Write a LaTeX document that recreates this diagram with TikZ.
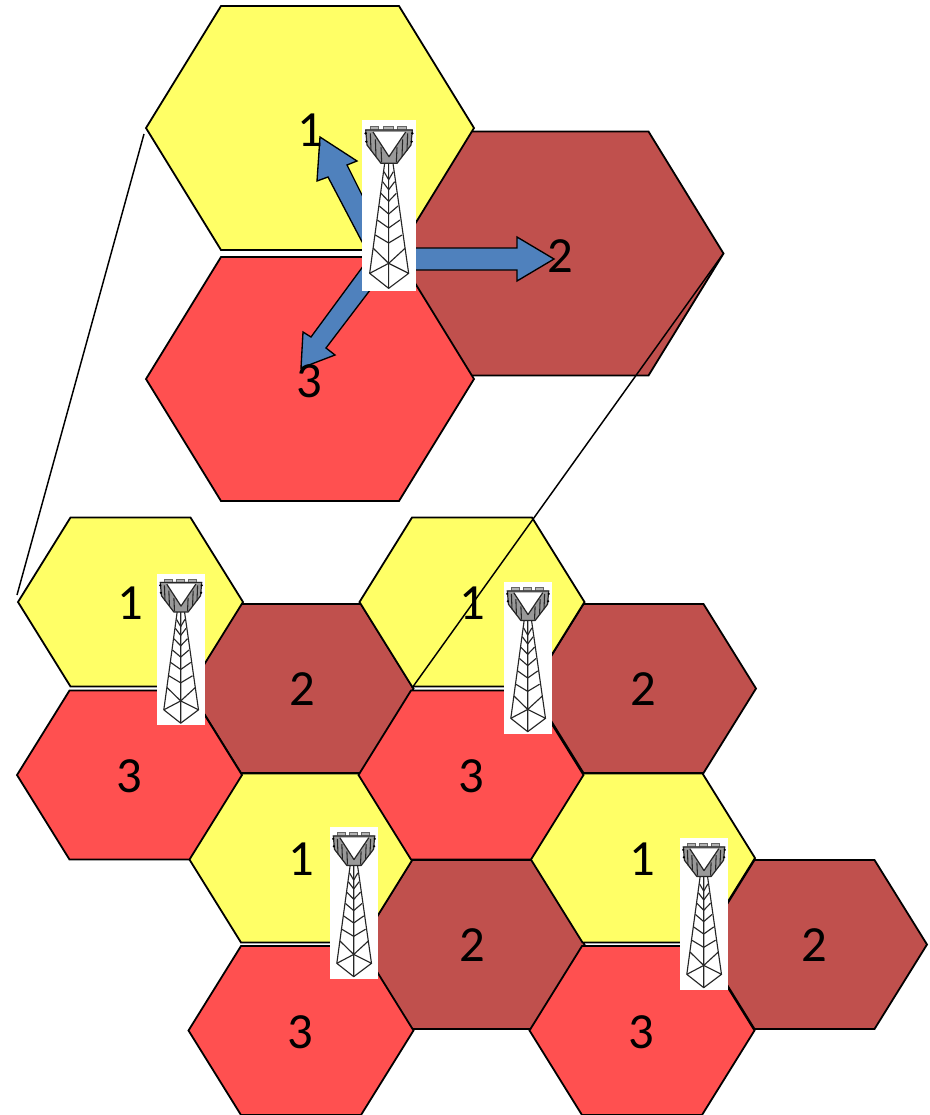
\documentclass[tikz,border=0pt]{standalone}
\usepackage{fontspec}
\setmainfont{Carlito}
\definecolor{hexY}{HTML}{FFFF66}
\definecolor{hexB}{HTML}{C0504D}
\definecolor{hexR}{HTML}{FF5050}
\definecolor{arrowB}{HTML}{4F81BD}
\tikzset{
  hexline/.style={draw=black,line width=1.35pt,line join=miter},
  digit/.style={font=\fontsize{38}{41}\selectfont,inner sep=0pt,text=black},
  blockarrow/.style={draw=black,line width=1pt,fill=arrowB,line join=miter},
  zoomline/.style={draw=black,line width=1.1pt},
  towerline/.style={black!85,line width=.85pt,line join=round},
  tower/.pic={
    \begin{scope}[x=.25pt,y=-.25pt,shift={(-245,-60)}]
      \fill[white] (245,60) rectangle (407,572);
      % roof blocks
      \foreach \a/\b in {270/295,310/338,352/378}
        \draw[fill=gray!60,draw=black!60,line width=.4pt] (\a,78) rectangle (\b,92);
      % basket
      \fill[gray!80] (256,88) -- (396,88) -- (392,135) -- (350,190) -- (302,190) -- (260,135) -- cycle;
      \fill[white] (278,96) -- (376,96) -- (326,170) -- cycle;
      \draw[black!85,line width=.9pt,line join=round] (256,90) -- (396,90) (256,88) -- (260,135) -- (302,190) -- (350,190) -- (392,135) -- (396,88) (278,96) -- (326,170) -- (376,96);
      \foreach \a/\b/\c/\d in {270/100/272/152,285/118/287/170,302/142/304/187,350/142/348/187,367/118/365/170,382/100/380/152}
        \draw[black!85,line width=.8pt] (\a,\b) -- (\c,\d);
      \foreach \a/\b in {256/100,396/100,258/125,394/125}
        \fill[black] (\a,\b) circle (4);
      % mast
      \draw[towerline] (313,190) -- (268,520) (338,190) -- (385,520) (325,190) -- (325,565);
      \draw[towerline] (268,520) -- (325,490) -- (385,520) -- (325,565) -- cycle;
      \foreach \y/\d in {215/14,245/18,280/23,318/28,360/34,405/40}
        \draw[towerline] (325-\d,\y) -- (325,\y+24) -- (325+\d,\y);
      \draw[towerline] (279,445) -- (325,490) -- (374,445);
    \end{scope}
  }
}
\newcommand{\hexsmall}[3]{%
  \draw[hexline,fill=#3] (#1-112.5,#2) -- (#1-60,#2-84.5) -- (#1+60,#2-84.5) -- (#1+112.5,#2) -- (#1+60,#2+84.5) -- (#1-60,#2+84.5) -- cycle;}
\newcommand{\hexlarge}[3]{%
  \draw[hexline,fill=#3] (#1-164,#2) -- (#1-89,#2-122) -- (#1+89,#2-122) -- (#1+164,#2) -- (#1+89,#2+122) -- (#1-89,#2+122) -- cycle;}
\begin{document}
\begin{tikzpicture}[x=.75pt,y=-.75pt]
\useasboundingbox (0,0) rectangle (930,1115);
% large cluster
\hexlarge{559.5}{253.5}{hexB}
\hexlarge{310}{128}{hexY}
\hexlarge{310}{379}{hexR}
% small clusters
\hexsmall{301}{688.5}{hexB}
\hexsmall{643.5}{688.5}{hexB}
\hexsmall{472}{944.5}{hexB}
\hexsmall{814.5}{944.5}{hexB}
\hexsmall{130.5}{602}{hexY}
\hexsmall{472}{602}{hexY}
\hexsmall{301}{858}{hexY}
\hexsmall{642.5}{858}{hexY}
\hexsmall{129.5}{775}{hexR}
\hexsmall{471}{775}{hexR}
\hexsmall{301}{1030.5}{hexR}
\hexsmall{642}{1030.5}{hexR}
% zoom lines
\coordinate (zl1) at (144,134);
\coordinate (zl2) at (17,595);
\coordinate (zr1) at (723,254);
\coordinate (zr2) at (412,688);
\draw[zoomline] (zl1) -- (zl2);
\draw[zoomline] (zr1) -- (zr2);
% block arrows
\draw[blockarrow] (380,231) -- (347,165) -- (357,161) -- (320,137) -- (317,181) -- (328,177) -- (380,276) -- cycle;
\draw[blockarrow] (400,248) -- (517,248) -- (517,237) -- (554,259) -- (517,281) -- (517,270) -- (400,270) -- cycle;
\draw[blockarrow] (375,250) -- (311,337) -- (303,332) -- (301,368) -- (335,355) -- (326,348) -- (380,277) -- cycle;
% digits
\node[digit] (a1) at (310,130) {1};
\node[digit] (a2) at (560.5,256) {2};
\node[digit] (a3) at (309.5,381) {3};
\node[digit] (b1) at (130,603) {1};
\node[digit] (b2) at (302,689) {2};
\node[digit] (b3) at (129.5,776) {3};
\node[digit] (c1) at (472,603) {1};
\node[digit] (c2) at (643.5,689) {2};
\node[digit] (c3) at (471.5,776) {3};
\node[digit] (d1) at (301,859) {1};
\node[digit] (d2) at (472.5,945) {2};
\node[digit] (d3) at (300.5,1032) {3};
\node[digit] (e1) at (642,859) {1};
\node[digit] (e2) at (814.5,945) {2};
\node[digit] (e3) at (641.5,1032) {3};
% towers
\pic at (362,120) {tower};
\pic[scale=.889] at (157,573.5) {tower};
\pic[scale=.889] at (504,582) {tower};
\pic[scale=.889] at (330,827) {tower};
\pic[scale=.889] at (680,838) {tower};
\end{tikzpicture}
\end{document}
